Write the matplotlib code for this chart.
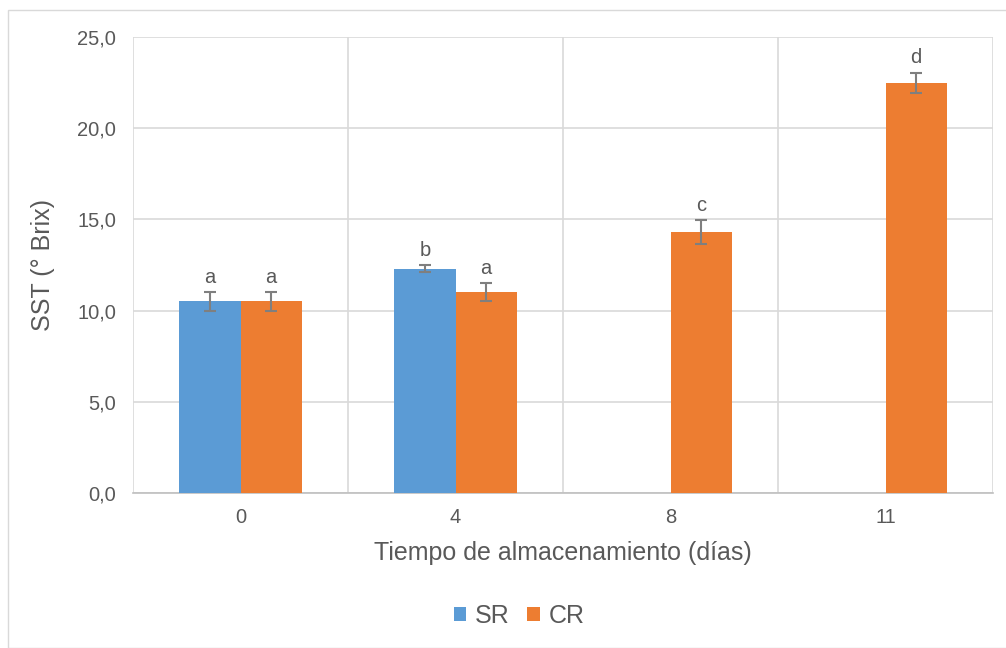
import numpy as np
import matplotlib
matplotlib.use("Agg")
import matplotlib.pyplot as plt
from matplotlib.patches import Rectangle

plt.rcParams['font.family'] = ['Liberation Sans', 'DejaVu Sans']

days = ["0", "4", "8", "11"]
sr_vals = [10.5, 12.3, np.nan, np.nan]
sr_err = [0.5, 0.2, np.nan, np.nan]
sr_letters = ["a", "b", None, None]
cr_vals = [10.5, 11.0, 14.3, 22.5]
cr_err = [0.5, 0.5, 0.65, 0.55]
cr_letters = ["a", "a", "c", "d"]
yticks = [0, 5, 10, 15, 20, 25]

blue = "#5B9BD5"
orange = "#ED7D31"
txt = "#595959"
grid = "#D9D9D9"

fig = plt.figure(figsize=(10.06, 6.48), dpi=100)
fig.patches.append(Rectangle((8/1006, 0), 1 - 8/1006 + 0.01, 1 - 10/648, transform=fig.transFigure,
                             fill=False, edgecolor="#D9D9D9", linewidth=1.0))
ax = fig.add_axes([133/1006, 155/648, 860/1006, 456/648])

x = np.arange(len(days))
w = 0.285
ax.bar(x - w/2, sr_vals, w, color=blue, label="SR", zorder=3)
ax.bar(x + w/2, cr_vals, w, color=orange, label="CR", zorder=3)
ax.errorbar(x - w/2, sr_vals, yerr=sr_err, fmt="none", ecolor="#7F7F7F", elinewidth=1.5,
            capsize=4, capthick=1.5, zorder=4)
ax.errorbar(x + w/2, cr_vals, yerr=cr_err, fmt="none", ecolor="#7F7F7F", elinewidth=1.5,
            capsize=4, capthick=1.5, zorder=4)
for i in range(len(days)):
    if sr_letters[i]:
        ax.text(x[i] - w/2, sr_vals[i] + sr_err[i] + 0.3, sr_letters[i], ha="center", va="bottom",
                fontsize=14.5, color=txt)
    if cr_letters[i]:
        ax.text(x[i] + w/2, cr_vals[i] + cr_err[i] + 0.3, cr_letters[i], ha="center", va="bottom",
                fontsize=14.5, color=txt)

ax.set_xlim(-0.5, len(days) - 0.5)
ax.set_ylim(0, 25)
ax.set_yticks(yticks)
ax.set_yticklabels([f"{v:.1f}".replace(".", ",") for v in yticks])
ax.set_xticks(x)
ax.set_xticklabels(days)
ax.set_xticks(np.arange(-0.5, len(days), 1.0), minor=True)
ax.tick_params(axis="both", which="both", length=0, labelsize=14.5, colors=txt)
ax.tick_params(axis="x", pad=11)
ax.tick_params(axis="y", pad=12)
ax.grid(True, axis="y", which="major", color=grid, linewidth=1.2, zorder=0)
ax.grid(True, axis="x", which="minor", color=grid, linewidth=1.2, zorder=0)
for s in ["top", "right", "left"]:
    ax.spines[s].set_visible(False)
ax.spines["bottom"].set_color("#BFBFBF")
ax.spines["bottom"].set_linewidth(1.2)

ax.set_ylabel("SST (° Brix)", fontsize=18, color=txt, labelpad=16)
ax.set_xlabel("Tiempo de almacenamiento (días)", fontsize=18, color=txt, labelpad=10)

fig.legend(loc="center", bbox_to_anchor=(519/1006, 1 - 616/648), ncol=2, frameon=False,
           fontsize=18, labelcolor=txt, handlelength=0.5, handleheight=0.5, handletextpad=0.35,
           columnspacing=0.7)

fig.savefig("out.png", dpi=100)
